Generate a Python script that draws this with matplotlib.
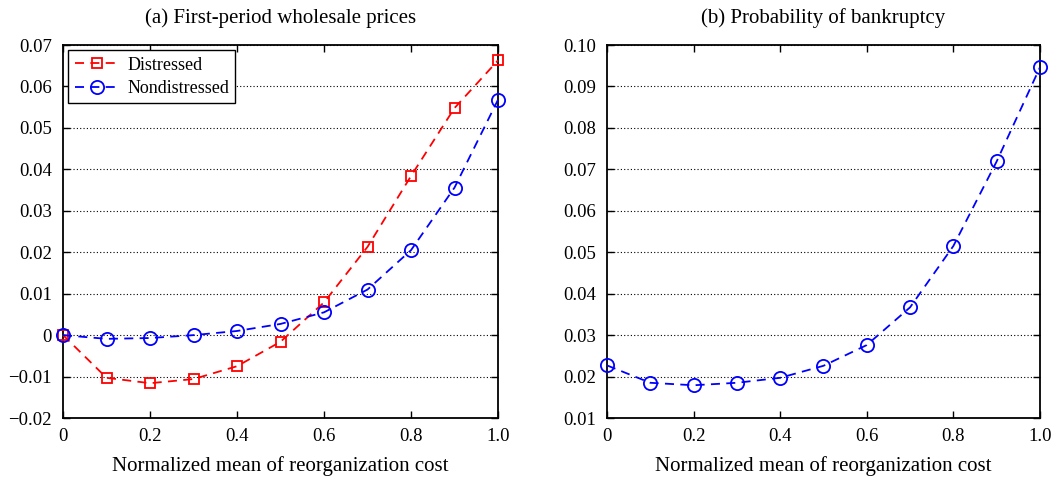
import numpy as np
import matplotlib
matplotlib.use('Agg')
import matplotlib.pyplot as plt

plt.rcParams['font.family'] = ['Liberation Serif', 'DejaVu Serif']
plt.rcParams['axes.unicode_minus'] = True

# data
x = [0, 0.1, 0.2, 0.3, 0.4, 0.5, 0.6, 0.7, 0.8, 0.9, 1.0]
distressed = [0.0, -0.0103, -0.0116, -0.0106, -0.0075, -0.0016, 0.0079, 0.0213, 0.0384, 0.0548, 0.0663]
nondistressed = [0.0, -0.0009, -0.0007, 0.0, 0.0010, 0.0027, 0.0055, 0.0110, 0.0205, 0.0356, 0.0568]
bankruptcy = [0.0227, 0.0185, 0.0179, 0.0185, 0.0197, 0.0226, 0.0276, 0.0367, 0.0515, 0.0719, 0.0946]

xticks = [0, 0.2, 0.4, 0.6, 0.8, 1.0]
xticklabels = ['0', '0.2', '0.4', '0.6', '0.8', '1.0']
yticks_a = [-0.02, -0.01, 0, 0.01, 0.02, 0.03, 0.04, 0.05, 0.06, 0.07]
yticklabels_a = ['\u22120.02', '\u22120.01', '0', '0.01', '0.02', '0.03', '0.04', '0.05', '0.06', '0.07']
yticks_b = [0.01, 0.02, 0.03, 0.04, 0.05, 0.06, 0.07, 0.08, 0.09, 0.10]
yticklabels_b = ['0.01', '0.02', '0.03', '0.04', '0.05', '0.06', '0.07', '0.08', '0.09', '0.10']

fs_tick = 13.5
fs_lab = 15
dash = (0, (5, 3.5))

fig = plt.figure(figsize=(10.63, 4.78), dpi=100)
ax1 = fig.add_axes([0.0593, 0.1255, 0.4092, 0.7803])
ax2 = fig.add_axes([0.571, 0.1255, 0.4073, 0.7803])

def style(ax, yticks, ylabels, ylim):
    ax.set_xlim(0, 1.0)
    ax.set_ylim(*ylim)
    ax.set_xticks(xticks)
    ax.set_xticklabels(xticklabels, fontsize=fs_tick)
    ax.set_yticks(yticks)
    ax.set_yticklabels(ylabels, fontsize=fs_tick)
    ax.tick_params(direction='in', top=True, right=True, length=5, width=1)
    ax.tick_params(axis='y', pad=8)
    ax.tick_params(axis='x', pad=7)
    ax.yaxis.grid(True, linestyle=(0, (1, 2)), color='black', linewidth=0.8)
    ax.set_axisbelow(True)
    for s in ax.spines.values():
        s.set_linewidth(1.3)
    ax.set_xlabel('Normalized mean of reorganization cost', fontsize=fs_lab, labelpad=8)

ax1.plot(x, distressed, color='#ff0000', linestyle=dash, linewidth=1.3,
         marker='s', markersize=7.5, markerfacecolor='none', markeredgewidth=1.3,
         label='Distressed', clip_on=False, zorder=3)
ax1.plot(x, nondistressed, color='#0000ff', linestyle=dash, linewidth=1.3,
         marker='o', markersize=9.5, markerfacecolor='none', markeredgewidth=1.3,
         label='Nondistressed', clip_on=False, zorder=3)
style(ax1, yticks_a, yticklabels_a, (-0.02, 0.07))
ax1.set_title('(a) First-period wholesale prices', fontsize=fs_lab, pad=16)
leg = ax1.legend(loc='upper left', fontsize=13, frameon=True, fancybox=False,
                 edgecolor='black', framealpha=1, borderaxespad=0.3,
                 handlelength=2.5, handletextpad=0.4, labelspacing=0.35,
                 borderpad=0.35, markerscale=1.0)
leg.get_frame().set_linewidth(1.0)

ax2.plot(x, bankruptcy, color='#0000ff', linestyle=dash, linewidth=1.3,
         marker='o', markersize=9.5, markerfacecolor='none', markeredgewidth=1.3,
         clip_on=False, zorder=3)
style(ax2, yticks_b, yticklabels_b, (0.01, 0.10))
ax2.set_title('(b) Probability of bankruptcy', fontsize=fs_lab, pad=16)

fig.savefig('out.png', dpi=100)
